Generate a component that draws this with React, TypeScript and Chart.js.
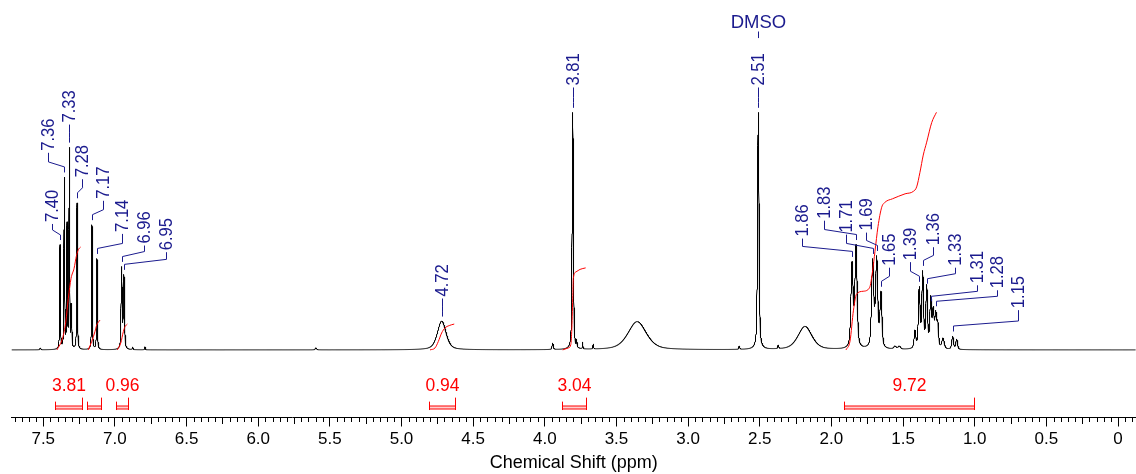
import React, { useEffect, useRef } from 'react';
import { Chart, registerables } from 'chart.js';

Chart.register(...registerables);

const FONT = '"Liberation Sans", Arial, Helvetica, sans-serif';
const NAVY = '#1b1b8e';
const RED = '#ff0000';

const X_MIN = -0.1256;
const X_MAX = 7.7216;
const Y_MIN = -68;
const Y_MAX = 352;

// ---- spectrum peak list (ppm, height in arbitrary intensity units, half width at half max in ppm)
const peakPpm = [
  7.52, 7.383, 7.353, 7.334, 7.318, 7.303, 7.264, 7.16, 7.125, 6.953, 6.937, 6.876, 6.79,
  5.597, 4.719, 3.945, 3.805, 3.777, 3.736, 3.662, 3.355, 2.643, 2.51, 2.371, 2.184,
  1.856, 1.828, 1.712, 1.684, 1.654, 1.556, 1.526, 1.417, 1.387, 1.363, 1.335, 1.307,
  1.289, 1.272, 1.258, 1.221, 1.154, 1.126,
];
const peakHeight = [
  2, 106, 174, 129, 204, 47, 148, 126, 92, 84, 76, 3, 3,
  2, 29, 7, 239, 11, 8, 6, 28.5, 4, 239, 5, 23.7,
  89, 106, 92, 95, 59, 4, 4, 20, 64, 80, 66, 55,
  44, 40, 30, 12, 14, 11,
];
const peakWidth = [
  0.004, 0.003, 0.003, 0.003, 0.003, 0.003, 0.003, 0.003, 0.003, 0.0045, 0.0045, 0.003, 0.003,
  0.006, 0.036, 0.005, 0.005, 0.002, 0.002, 0.003, 0.076, 0.004, 0.006, 0.004, 0.058,
  0.009, 0.009, 0.009, 0.009, 0.008, 0.01, 0.01, 0.007, 0.007, 0.007, 0.007, 0.007,
  0.007, 0.007, 0.007, 0.01, 0.007, 0.007,
];

// ---- peak labels
const labelText = [
  '7.40', '7.36', '7.33', '7.28', '7.17', '7.14', '6.96', '6.95', '4.72', '3.81', '2.51',
  '1.86', '1.83', '1.71', '1.69', '1.65', '1.39', '1.36', '1.33', '1.31', '1.28', '1.15',
];
const labelPeakPpm = [
  7.383, 7.353, 7.318, 7.264, 7.16, 7.125, 6.953, 6.937, 4.719, 3.805, 2.51,
  1.856, 1.828, 1.712, 1.684, 1.654, 1.387, 1.363, 1.335, 1.307, 1.272, 1.154,
];
const labelColumnPpm = [
  7.441, 7.465, 7.318, 7.232, 7.081, 6.947, 6.797, 6.645, 4.719, 3.805, 2.51,
  2.207, 2.052, 1.898, 1.759, 1.598, 1.452, 1.289, 1.137, 0.986, 0.846, 0.696,
];
const labelLevel = [
  128.7, 200.3, 228.7, 173.7, 152, 118.7, 107, 100.3, 53.7, 266, 266,
  114, 132, 118, 120, 84.7, 90.3, 105.3, 84.7, 67, 62, 42,
];
const solventLabel = 'DMSO';
const solventPpm = 2.51;

// ---- integrals
const integralText = ['3.81', '', '0.96', '0.94', '3.04', '9.72'];
const integralStart = [7.418, 7.193, 6.992, 4.808, 3.882, 1.91];
const integralEnd = [7.232, 7.099, 6.906, 4.627, 3.715, 1.005];

const integralCurve1Ppm = [7.404, 7.365, 7.343, 7.325, 7.306, 7.285, 7.268, 7.254, 7.239];
const integralCurve1Val = [0, 12, 28, 52, 72, 82, 95, 101, 103.5];
const integralCurve2Ppm = [7.186, 7.162, 7.139, 7.127, 7.104];
const integralCurve2Val = [0, 8.5, 18.5, 25, 30];
const integralCurve3Ppm = [6.983, 6.959, 6.941, 6.929, 6.913];
const integralCurve3Val = [0, 7, 18.5, 23.5, 26];
const integralCurve4Ppm = [4.801, 4.766, 4.743, 4.72, 4.697, 4.667, 4.632];
const integralCurve4Val = [0, 2, 8.5, 17, 22, 24.5, 26];
const integralCurve5Ppm = [3.875, 3.836, 3.819, 3.812, 3.805, 3.801, 3.782, 3.754, 3.715];
const integralCurve5Val = [0, 2, 5, 18.5, 52, 72, 78.5, 81, 82.5];
const integralCurve6Ppm = [
  1.898, 1.87, 1.846, 1.825, 1.779, 1.734, 1.712, 1.696, 1.675, 1.649, 1.626, 1.574,
  1.486, 1.428, 1.405, 1.382, 1.359, 1.335, 1.3, 1.267,
];
const integralCurve6Val = [
  0, 9, 40, 56, 59, 62.5, 80, 99, 124, 143.5, 148.5, 152,
  157, 159.5, 164, 178.7, 196, 209, 228.7, 239,
];

// ---- axis
const xTickValues = [7.5, 7.0, 6.5, 6.0, 5.5, 5.0, 4.5, 4.0, 3.5, 3.0, 2.5, 2.0, 1.5, 1.0, 0.5, 0];
const xTickLabels = ['7.5', '7.0', '6.5', '6.0', '5.5', '5.0', '4.5', '4.0', '3.5', '3.0', '2.5', '2.0', '1.5', '1.0', '0.5', '0'];
const xTitle = 'Chemical Shift (ppm)';

function lineShape(d: number, w: number) {
  const r2 = (d / w) * (d / w);
  const g = r2 > 60 ? 0 : Math.exp(-Math.LN2 * r2);
  return 0.5 / (1 + r2) + 0.5 * g;
}

function fitAmplitudes(): number[] {
  const a = peakHeight.slice();
  for (let it = 0; it < 60; it++) {
    for (let i = 0; i < peakPpm.length; i++) {
      let s = 0;
      for (let j = 0; j < peakPpm.length; j++) s += a[j] * lineShape(peakPpm[i] - peakPpm[j], peakWidth[j]);
      a[i] = Math.max(0, a[i] + (peakHeight[i] - s));
    }
  }
  return a;
}

function spectrumAt(amp: number[], p: number) {
  let s = 0;
  for (let j = 0; j < peakPpm.length; j++) s += amp[j] * lineShape(p - peakPpm[j], peakWidth[j]);
  return s;
}

function curve(ppm: number[], val: number[]) {
  return ppm.map((p, i) => ({ x: p, y: val[i] }));
}

export default function App() {
  const ref = useRef<HTMLCanvasElement | null>(null);

  useEffect(() => {
    if (!ref.current) return;
    const amp = fitAmplitudes();
    const spectrum: { x: number; y: number }[] = [];
    const step = 0.0005;
    const n = Math.round((X_MAX - X_MIN) / step);
    for (let k = 0; k <= n; k++) {
      const p = X_MAX - k * step;
      spectrum.push({ x: p, y: spectrumAt(amp, p) });
    }

    const integralSets = [
      curve(integralCurve1Ppm, integralCurve1Val),
      curve(integralCurve2Ppm, integralCurve2Val),
      curve(integralCurve3Ppm, integralCurve3Val),
      curve(integralCurve4Ppm, integralCurve4Val),
      curve(integralCurve5Ppm, integralCurve5Val),
      curve(integralCurve6Ppm, integralCurve6Val),
    ].map((d) => ({
      data: d,
      borderColor: RED,
      borderWidth: 1,
      pointRadius: 0,
      cubicInterpolationMode: 'monotone' as const,
      order: 0,
    }));

    const annotations = {
      id: 'nmrAnnotations',
      afterDatasetsDraw(chart: any) {
        const { ctx, chartArea } = chart;
        const xs = chart.scales.x;
        const ys = chart.scales.y;
        ctx.save();
        // minor / medium axis ticks
        ctx.strokeStyle = '#000';
        ctx.lineWidth = 1;
        const y0 = chartArea.bottom;
        const kMin = Math.ceil(X_MIN / 0.05);
        const kMax = Math.floor(X_MAX / 0.05);
        ctx.beginPath();
        for (let k = kMin; k <= kMax; k++) {
          if (k % 10 === 0) continue;
          const len = k % 5 === 0 ? 6.5 : 4.5;
          const px = Math.round(xs.getPixelForValue(k * 0.05)) + 0.5;
          ctx.moveTo(px, y0);
          ctx.lineTo(px, y0 + len);
        }
        ctx.stroke();

        // peak labels with leader lines
        const fs = 18;
        ctx.font = `${fs}px ${FONT}`;
        ctx.fillStyle = NAVY;
        ctx.strokeStyle = NAVY;
        labelText.forEach((t, i) => {
          const px = Math.round(xs.getPixelForValue(labelPeakPpm[i])) + 0.5;
          const cx = Math.round(xs.getPixelForValue(labelColumnPpm[i])) + 0.5;
          const topY = ys.getPixelForValue(spectrumAt(amp, labelPeakPpm[i]));
          const lb = ys.getPixelForValue(labelLevel[i]);
          const v1End = Math.max(lb + 8, topY - 15);
          const dEnd = v1End + 5;
          const v2End = Math.max(dEnd + 5, topY - 4.5);
          ctx.beginPath();
          ctx.moveTo(cx, lb + 2);
          ctx.lineTo(cx, v1End);
          ctx.lineTo(px, dEnd);
          ctx.lineTo(px, v2End);
          ctx.stroke();
          ctx.save();
          ctx.translate(cx - 0.5, lb);
          ctx.rotate(-Math.PI / 2);
          ctx.scale(0.92, 1);
          ctx.textAlign = 'left';
          ctx.textBaseline = 'alphabetic';
          ctx.fillText(t, 0, 0.358 * fs);
          ctx.restore();
        });

        // solvent label
        const sx = Math.round(xs.getPixelForValue(solventPpm)) + 0.5;
        ctx.font = `18.5px ${FONT}`;
        ctx.textAlign = 'center';
        ctx.textBaseline = 'alphabetic';
        ctx.fillText(solventLabel, sx, ys.getPixelForValue(323.7));
        ctx.beginPath();
        ctx.moveTo(sx, ys.getPixelForValue(320.3));
        ctx.lineTo(sx, ys.getPixelForValue(313.7));
        ctx.stroke();

        // integral bars
        ctx.strokeStyle = RED;
        ctx.fillStyle = RED;
        ctx.font = `17.5px ${FONT}`;
        const barY = Math.round(ys.getPixelForValue(-57.3)) + 0.5;
        const tickTop = ys.getPixelForValue(-48);
        const tickBot = ys.getPixelForValue(-60.5);
        const textY = ys.getPixelForValue(-41.3);
        integralText.forEach((t, i) => {
          const x1 = Math.round(xs.getPixelForValue(integralStart[i])) + 0.5;
          const x2 = Math.round(xs.getPixelForValue(integralEnd[i])) + 0.5;
          ctx.fillStyle = 'rgba(255,120,120,0.35)';
          ctx.fillRect(x1, barY - 1.5, x2 - x1, 3);
          ctx.beginPath();
          ctx.moveTo(x1, barY - 1.5);
          ctx.lineTo(x2, barY - 1.5);
          ctx.moveTo(x1, barY + 1.5);
          ctx.lineTo(x2, barY + 1.5);
          ctx.moveTo(x1, tickTop + 4);
          ctx.lineTo(x1, tickBot);
          ctx.moveTo(x2, tickTop);
          ctx.lineTo(x2, tickBot);
          ctx.stroke();
          if (t) {
            ctx.fillStyle = RED;
            ctx.textAlign = 'center';
            ctx.fillText(t, (x1 + x2) / 2, textY);
          }
        });
        ctx.restore();
      },
    };

    const chart = new Chart(ref.current, {
      type: 'line',
      data: {
        datasets: [
          ...integralSets,
          {
            data: spectrum,
            borderColor: '#000',
            borderWidth: 1,
            pointRadius: 0,
            tension: 0,
            order: 1,
          },
        ],
      },
      options: {
        animation: false,
        responsive: false,
        devicePixelRatio: 1,
        parsing: false,
        normalized: true,
        events: [],
        layout: { padding: { left: 11.5, right: 0, top: 0, bottom: 0.5 } },
        plugins: { legend: { display: false }, tooltip: { enabled: false }, title: { display: false } },
        scales: {
          x: {
            type: 'linear',
            reverse: true,
            min: X_MIN,
            max: X_MAX,
            afterBuildTicks: (scale: any) => {
              scale.ticks = xTickValues.map((v) => ({ value: v }));
            },
            ticks: {
              autoSkip: false,
              maxRotation: 0,
              padding: 2.5,
              color: '#000',
              font: { family: FONT, size: 17 },
              callback: (v: any) => {
                const idx = xTickValues.findIndex((t) => Math.abs(t - Number(v)) < 1e-6);
                return idx >= 0 ? xTickLabels[idx] : '';
              },
            },
            grid: { display: true, drawOnChartArea: false, drawTicks: true, tickLength: 9, color: '#000', lineWidth: 1 },
            border: { display: true, color: '#000', width: 1 },
            title: {
              display: true,
              text: xTitle,
              color: '#000',
              font: { family: FONT, size: 18 },
              padding: { top: 0, bottom: 0 },
            },
          },
          y: { type: 'linear', display: false, min: Y_MIN, max: Y_MAX },
        },
      },
      plugins: [annotations],
    } as any);
    return () => chart.destroy();
  }, []);

  return (
    <div style={{ position: 'fixed', left: 0, top: 0, width: 1136, height: 474, background: '#fff' }}>
      <canvas ref={ref} width={1136} height={474} style={{ display: 'block' }} />
    </div>
  );
}
